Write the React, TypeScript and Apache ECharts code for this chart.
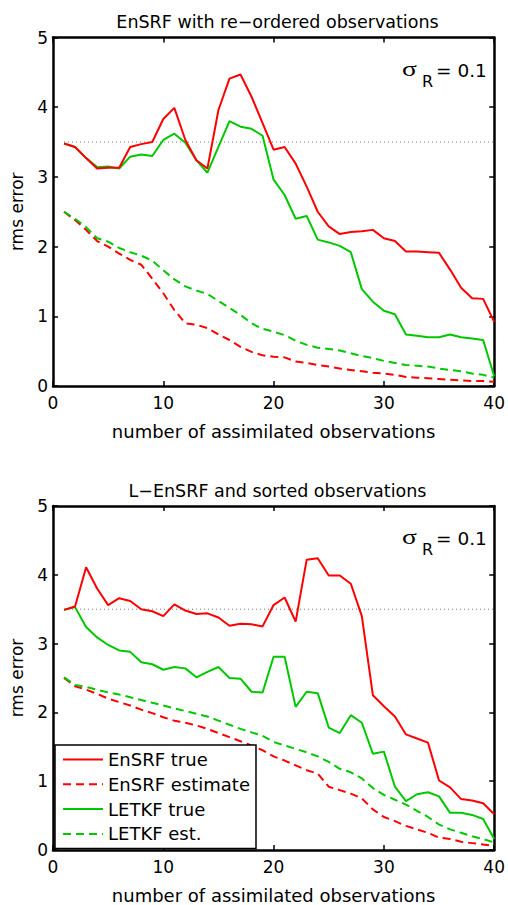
import React, { useEffect, useRef } from "react";
import * as echarts from "echarts";

const observations = Array.from({ length: 40 }, (_, i) => i + 1);

// Top panel: EnSRF with re-ordered observations
const topEnSRFTrue = [3.48, 3.43, 3.27, 3.12, 3.13, 3.13, 3.43, 3.47, 3.50, 3.83, 3.99, 3.53, 3.24, 3.12, 3.96, 4.41, 4.47, 4.15, 3.77, 3.39, 3.43, 3.19, 2.86, 2.50, 2.29, 2.18, 2.21, 2.22, 2.24, 2.12, 2.08, 1.93, 1.93, 1.92, 1.91, 1.67, 1.41, 1.26, 1.25, 0.92];
const topEnSRFEst = [2.50, 2.38, 2.24, 2.08, 2.00, 1.90, 1.81, 1.74, 1.54, 1.33, 1.09, 0.90, 0.88, 0.83, 0.74, 0.66, 0.56, 0.49, 0.44, 0.42, 0.41, 0.35, 0.33, 0.30, 0.28, 0.25, 0.23, 0.21, 0.19, 0.18, 0.16, 0.13, 0.12, 0.11, 0.10, 0.09, 0.08, 0.07, 0.07, 0.06];
const topLETKFTrue = [3.48, 3.43, 3.27, 3.14, 3.15, 3.12, 3.29, 3.32, 3.30, 3.53, 3.62, 3.49, 3.24, 3.06, 3.43, 3.80, 3.72, 3.69, 3.59, 2.96, 2.74, 2.40, 2.44, 2.10, 2.06, 2.01, 1.92, 1.39, 1.21, 1.08, 1.03, 0.74, 0.72, 0.70, 0.70, 0.74, 0.70, 0.68, 0.66, 0.14];
const topLETKFEst = [2.50, 2.40, 2.28, 2.12, 2.07, 1.98, 1.92, 1.87, 1.80, 1.66, 1.53, 1.43, 1.37, 1.32, 1.22, 1.12, 1.02, 0.90, 0.82, 0.78, 0.73, 0.65, 0.59, 0.55, 0.53, 0.51, 0.47, 0.43, 0.40, 0.36, 0.33, 0.30, 0.29, 0.28, 0.25, 0.23, 0.21, 0.18, 0.16, 0.12];

// Bottom panel: L-EnSRF and sorted observations
const botEnSRFTrue = [3.49, 3.54, 4.11, 3.80, 3.56, 3.66, 3.62, 3.50, 3.47, 3.40, 3.57, 3.48, 3.43, 3.44, 3.38, 3.26, 3.29, 3.28, 3.25, 3.56, 3.67, 3.32, 4.22, 4.24, 3.99, 3.99, 3.87, 3.40, 2.25, 2.09, 1.94, 1.68, 1.62, 1.56, 1.01, 0.91, 0.74, 0.72, 0.68, 0.52];
const botEnSRFEst = [2.50, 2.38, 2.33, 2.27, 2.20, 2.15, 2.10, 2.04, 1.99, 1.93, 1.88, 1.85, 1.81, 1.76, 1.70, 1.64, 1.58, 1.52, 1.45, 1.36, 1.30, 1.23, 1.16, 1.11, 0.92, 0.87, 0.82, 0.75, 0.59, 0.48, 0.42, 0.35, 0.30, 0.25, 0.18, 0.16, 0.12, 0.10, 0.08, 0.06];
const botLETKFTrue = [3.49, 3.53, 3.24, 3.09, 2.98, 2.90, 2.88, 2.73, 2.70, 2.62, 2.66, 2.64, 2.51, 2.59, 2.66, 2.50, 2.49, 2.30, 2.29, 2.81, 2.81, 2.08, 2.30, 2.28, 1.78, 1.70, 1.96, 1.85, 1.40, 1.43, 0.92, 0.71, 0.81, 0.84, 0.78, 0.54, 0.54, 0.51, 0.45, 0.16];
const botLETKFEst = [2.51, 2.40, 2.37, 2.33, 2.29, 2.26, 2.22, 2.18, 2.14, 2.10, 2.06, 2.02, 1.98, 1.94, 1.88, 1.82, 1.76, 1.71, 1.66, 1.57, 1.52, 1.47, 1.42, 1.36, 1.28, 1.18, 1.13, 1.04, 0.90, 0.80, 0.73, 0.66, 0.57, 0.48, 0.37, 0.30, 0.25, 0.20, 0.16, 0.11];

const referenceLevel = 3.5;
const xTicks = [0, 40, 10];
const yTicks = [0, 5, 1];
const titles = ["EnSRF with re\u2212ordered observations", "L\u2212EnSRF and sorted observations"];
const seriesNames = ["EnSRF true", "EnSRF estimate", "LETKF true", "LETKF est."];
const xName = "number of assimilated observations";
const yName = "rms error";

const RED = "#ff0000";
const GREEN = "#00c800";
const FONT = "DejaVu Sans, sans-serif";

export default function App() {
  const ref = useRef<HTMLDivElement>(null);
  useEffect(() => {
    if (!ref.current) return;
    const chart = echarts.init(ref.current, null, { renderer: "svg" });
    const grids = [
      { left: 49, top: 37.5, width: 447, height: 348.5 },
      { left: 49, top: 506, width: 447, height: 349 },
    ];
    const xAxes: any[] = [];
    const yAxes: any[] = [];
    grids.forEach((_, g) => {
      const base = {
        gridIndex: g,
        type: "value",
        min: xTicks[0],
        max: xTicks[1],
        interval: xTicks[2],
        splitLine: { show: false },
        axisLine: { show: true, onZero: false, lineStyle: { color: "#000", width: 2.5 } },
        axisTick: { show: true, inside: true, length: 5, lineStyle: { color: "#000", width: 1.5 } },
      };
      xAxes.push({
        ...base,
        position: "bottom",
        axisLabel: { color: "#000", fontSize: 17, fontFamily: FONT, margin: 8 },
        name: xName,
        nameLocation: "middle",
        nameGap: 36,
        nameTextStyle: { color: "#000", fontSize: 18, fontFamily: FONT },
      });
      xAxes.push({ ...base, position: "top", axisLabel: { show: false } });
      const ybase = {
        gridIndex: g,
        type: "value",
        min: yTicks[0],
        max: yTicks[1],
        interval: yTicks[2],
        splitLine: { show: false },
        axisLine: { show: true, onZero: false, lineStyle: { color: "#000", width: 2.5 } },
        axisTick: { show: true, inside: true, length: 5, lineStyle: { color: "#000", width: 1.5 } },
      };
      yAxes.push({
        ...ybase,
        position: "left",
        axisLabel: { color: "#000", fontSize: 17, fontFamily: FONT, margin: 5 },
        name: yName,
        nameLocation: "middle",
        nameGap: 28,
        nameTextStyle: { color: "#000", fontSize: 17, fontFamily: FONT },
      });
      yAxes.push({ ...ybase, position: "right", axisLabel: { show: false } });
    });

    const panels = [
      [topEnSRFTrue, topEnSRFEst, topLETKFTrue, topLETKFEst],
      [botEnSRFTrue, botEnSRFEst, botLETKFTrue, botLETKFEst],
    ];
    const colors = [RED, RED, GREEN, GREEN];
    const dashed = [false, true, false, true];
    const series: any[] = [];
    panels.forEach((arrs, g) => {
      series.push({
        type: "line",
        name: "ref",
        xAxisIndex: g * 2,
        yAxisIndex: g * 2,
        data: [
          [observations[0], referenceLevel],
          [observations[observations.length - 1], referenceLevel],
        ],
        symbol: "none",
        silent: true,
        lineStyle: { color: "#777", width: 1, type: [1, 3] },
      });
      arrs.forEach((arr, k) => {
        series.push({
          type: "line",
          name: seriesNames[k],
          xAxisIndex: g * 2,
          yAxisIndex: g * 2,
          data: arr.map((v, i) => [observations[i], v]),
          symbol: "none",
          color: colors[k],
          lineStyle: { color: colors[k], width: 2, type: dashed[k] ? [8, 5] : "solid" },
          z: 3 + (k === 0 ? 1 : 0),
        });
      });
    });

    const graphic: any[] = [];
    [0, 468.5].forEach((dy) => {
      graphic.push({
        type: "text",
        x: 402,
        y: 68 + dy,
        style: { text: "\u03c3", fontSize: 22, fontFamily: "Liberation Serif, serif", fill: "#000", verticalAlign: "middle", align: "left" },
        scaleX: 1.25,
      });
      graphic.push({
        type: "text",
        x: 422,
        y: 81 + dy,
        style: { text: "R", fontSize: 16, fontFamily: FONT, fill: "#000", verticalAlign: "middle", align: "left" },
      });
      graphic.push({
        type: "text",
        x: 436,
        y: 70 + dy,
        style: { text: "= 0.1", fontSize: 18.5, fontFamily: FONT, fill: "#000", verticalAlign: "middle", align: "left" },
      });
    });

    chart.setOption({
      animation: false,
      backgroundColor: "#fff",
      title: [
        { text: titles[0], left: 272.5, top: 8, textAlign: "center", textStyle: { fontSize: 17.5, fontWeight: "normal", color: "#000", fontFamily: FONT } },
        { text: titles[1], left: 272.5, top: 476.5, textAlign: "center", textStyle: { fontSize: 17.5, fontWeight: "normal", color: "#000", fontFamily: FONT } },
      ],
      grid: grids.map((g) => ({ ...g, show: false })),
      xAxis: xAxes,
      yAxis: yAxes,
      legend: {
        data: seriesNames,
        orient: "vertical",
        left: 55,
        top: 745,
        backgroundColor: "#fff",
        borderColor: "#000",
        borderWidth: 1.5,
        borderRadius: 0,
        padding: [5.5, 6, 5.5, 7],
        itemWidth: 40,
        itemHeight: 18,
        itemGap: 6.8,
        itemStyle: { opacity: 0 },
        lineStyle: { width: 2 },
        textStyle: { fontSize: 18, color: "#000", fontFamily: FONT },
        selectedMode: false,
      },
      graphic,
      series,
    });
    return () => chart.dispose();
  }, []);
  return <div ref={ref} style={{ position: "fixed", left: 0, top: 0, width: 508, height: 905 }} />;
}
